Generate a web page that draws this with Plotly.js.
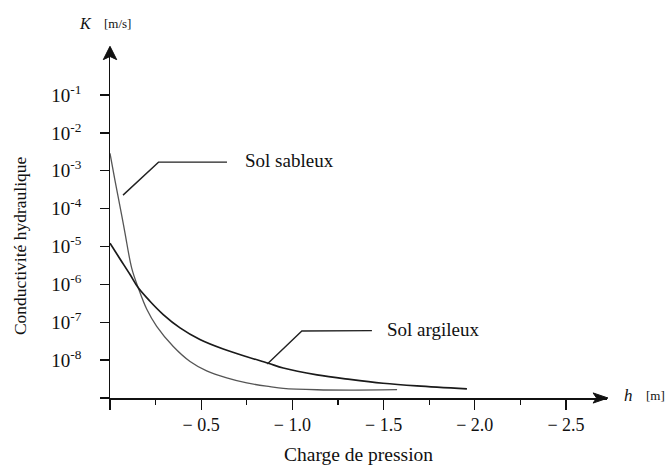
<!DOCTYPE html>
<html>
<head>
<meta charset="utf-8">
<script src="https://cdn.plot.ly/plotly-3.0.1.min.js"></script>
<style>html,body{margin:0;padding:0;background:#fff;}#chart{width:671px;height:466px;}</style>
</head>
<body>
<div id="chart"></div>
<script>
// Pressure head h [m] and hydraulic conductivity K [m/s]
const sandH = [0, -0.027, -0.064, -0.082, -0.119, -0.155, -0.201, -0.256, -0.347, -0.439, -0.530, -0.640, -0.750, -0.877, -0.950, -1.135, -1.316, -1.574];
const sandK = [2.9e-3, 5.7e-4, 6.8e-5, 2.3e-5, 2.7e-6, 8.1e-7, 2.24e-7, 7.8e-8, 2.29e-8, 9.2e-9, 5.2e-9, 3.4e-9, 2.5e-9, 2.0e-9, 1.8e-9, 1.65e-9, 1.62e-9, 1.66e-9];
const clayH = [0, -0.055, -0.110, -0.155, -0.219, -0.292, -0.384, -0.493, -0.621, -0.750, -0.868, -0.950, -1.135, -1.316, -1.497, -1.683, -1.957];
const clayK = [1.22e-5, 4.7e-6, 1.82e-6, 8.1e-7, 3.6e-7, 1.6e-7, 7.1e-8, 3.5e-8, 1.96e-8, 1.23e-8, 8.3e-9, 6.2e-9, 4.1e-9, 3.1e-9, 2.45e-9, 2.08e-9, 1.74e-9];

const xTickVals = [0, -0.5, -1.0, -1.5, -2.0, -2.5];
const xTickText = ['', '\u2212 0.5', '\u2212 1.0', '\u2212 1.5', '\u2212 2.0', '\u2212 2.5'];
const xMinorVals = [-0.25, -0.75, -1.25, -1.75, -2.25];
const yTickVals = [1e-9, 1e-8, 1e-7, 1e-6, 1e-5, 1e-4, 1e-3, 1e-2, 1e-1];
const yExponents = ['', '-8', '-7', '-6', '-5', '-4', '-3', '-2', '-1'];
const yTickText = yExponents.map(e => e === '' ? '' : '10<sup>' + e + '</sup>\u00a0\u00a0\u00a0');

const seriesNames = ['Sol sableux', 'Sol argileux'];
const FONT = 'Liberation Serif, Times New Roman, serif';

const traces = [
  {x: sandH, y: sandK, type: 'scatter', mode: 'lines', name: seriesNames[0],
   line: {color: '#555', width: 1.3, shape: 'spline', smoothing: 1}},
  {x: clayH, y: clayK, type: 'scatter', mode: 'lines', name: seriesNames[1],
   line: {color: '#1a1a1a', width: 1.7, shape: 'spline', smoothing: 1}}
];

const layout = {
  width: 671, height: 466,
  margin: {l: 110, r: 64, t: 47, b: 68},
  paper_bgcolor: '#fff', plot_bgcolor: '#fff',
  showlegend: false,
  font: {family: FONT, size: 18, color: '#111'},
  xaxis: {
    range: [0, -2.725], showgrid: false, zeroline: false,
    showline: true, linecolor: '#111', linewidth: 1.5,
    tickmode: 'array', tickvals: xTickVals, ticktext: xTickText,
    ticks: 'outside', ticklen: 10, tickwidth: 1.3, tickcolor: '#111',
    tickfont: {family: FONT, size: 18},
    minor: {tickmode: 'array', tickvals: xMinorVals, ticks: 'outside', ticklen: 5, tickwidth: 1.2, tickcolor: '#111', showgrid: false}
  },
  yaxis: {
    type: 'log', range: [-9, 0.27], showgrid: false, zeroline: false,
    showline: true, linecolor: '#111', linewidth: 1.5,
    tickmode: 'array', tickvals: yTickVals, ticktext: yTickText,
    ticks: 'outside', ticklen: 9, tickwidth: 1.3, tickcolor: '#111',
    tickfont: {family: FONT, size: 19}
  },
  shapes: [
    // y-axis arrowhead
    {type: 'path', xref: 'paper', yref: 'paper', path: 'M 0 1.002 L 0.0135 0.964 L 0 0.973 L -0.0135 0.964 Z', fillcolor: '#111', line: {color: '#111', width: 1}},
    // x-axis arrowhead
    {type: 'path', xref: 'paper', yref: 'paper', path: 'M 1.002 0 L 0.972 0.0145 L 0.979 0 L 0.972 -0.0145 Z', fillcolor: '#111', line: {color: '#111', width: 1}},
    // leader for sand
    {type: 'path', xref: 'paper', yref: 'paper', path: 'M 0.0262 0.578 L 0.0976 0.672 L 0.2354 0.672', line: {color: '#222', width: 1.4}},
    // leader for clay
    {type: 'path', xref: 'paper', yref: 'paper', path: 'M 0.3165 0.0966 L 0.386 0.191 L 0.527 0.192', line: {color: '#222', width: 1.4}}
  ],
  annotations: [
    {xref: 'paper', yref: 'paper', x: 0.2676, y: 0.678, xanchor: 'left', yanchor: 'middle', text: seriesNames[0], showarrow: false, font: {family: FONT, size: 19, color: '#111'}},
    {xref: 'paper', yref: 'paper', x: 0.553, y: 0.194, xanchor: 'left', yanchor: 'middle', text: seriesNames[1], showarrow: false, font: {family: FONT, size: 19, color: '#111'}},
    {xref: 'paper', yref: 'paper', x: -0.05, y: 1.068, xanchor: 'center', yanchor: 'middle', text: '<i>K</i>', showarrow: false, font: {family: FONT, size: 16, color: '#111'}},
    {xref: 'paper', yref: 'paper', x: 0.016, y: 1.066, xanchor: 'center', yanchor: 'middle', text: '[m/s]', showarrow: false, font: {family: FONT, size: 13, color: '#111'}},
    {xref: 'paper', yref: 'paper', x: 1.044, y: 0.008, xanchor: 'center', yanchor: 'middle', text: '<i>h</i>', showarrow: false, font: {family: FONT, size: 17, color: '#111'}},
    {xref: 'paper', yref: 'paper', x: 1.097, y: 0.008, xanchor: 'center', yanchor: 'middle', text: '[m]', showarrow: false, font: {family: FONT, size: 13, color: '#111'}},
    {xref: 'paper', yref: 'paper', x: 0.499, y: -0.162, xanchor: 'center', yanchor: 'middle', text: 'Charge de pression', showarrow: false, font: {family: FONT, size: 19.5, color: '#111'}},
    {xref: 'paper', yref: 'paper', x: -0.181, y: 0.433, xanchor: 'center', yanchor: 'middle', textangle: -90, text: 'Conductivité hydraulique', showarrow: false, font: {family: FONT, size: 17.5, color: '#111'}}
  ]
};

Plotly.newPlot('chart', traces, layout, {displayModeBar: false, staticPlot: true});
</script>
</body>
</html>
